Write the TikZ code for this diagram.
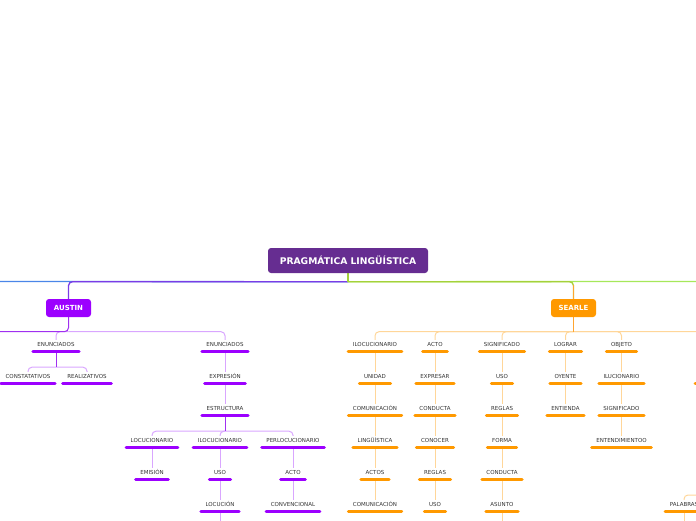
\documentclass[tikz,border=0pt]{standalone}
\usepackage{fontspec}
\newfontfamily\dv{DejaVu Sans}
\definecolor{rootc}{HTML}{662D91}
\definecolor{austc}{HTML}{9C00FF}
\definecolor{searc}{HTML}{FF9900}
\definecolor{txt}{HTML}{333333}
\definecolor{vbar}{HTML}{9C00FF}
\definecolor{obar}{HTML}{FF9900}
\definecolor{vlight}{HTML}{D9A6FF}
\definecolor{vdark}{HTML}{A030F0}
\definecolor{olight}{HTML}{FFD699}
\definecolor{odark}{HTML}{FFA530}
\definecolor{lpurp}{HTML}{7A3CE6}
\definecolor{lblue}{HTML}{4A86E8}
\definecolor{ygreen}{HTML}{A5D13A}
\definecolor{lgreen}{HTML}{A6E85A}
\pgfdeclarelayer{bg}
\pgfsetlayers{bg,main}
\begin{document}
\begin{tikzpicture}[x=1pt,y=-1pt,
  lab/.style={font=\dv\fontsize{5.5}{6}\selectfont, text=txt, anchor=base,
    inner xsep=4.5pt, inner ysep=2pt, text height=4pt, text depth=3pt},
  barV/.style={draw=vbar, line width=3pt, line cap=round},
  barO/.style={draw=obar, line width=3pt, line cap=round},
  vn/.style={lab, append after command={(\tikzlastnode.south west) edge[barV] (\tikzlastnode.south east)}},
  on/.style={lab, append after command={(\tikzlastnode.south west) edge[barO] (\tikzlastnode.south east)}},
  cv/.style={draw=vlight, line width=1pt, rounded corners=4pt},
  cvd/.style={draw=vdark, line width=1pt},
  co/.style={draw=olight, line width=1pt, rounded corners=4pt},
  cod/.style={draw=odark, line width=1pt},
  top/.style={line width=1.3pt, rounded corners=4pt},
  mainbox/.style={rounded corners=3pt, text=white, inner sep=0pt, anchor=center}
]
\useasboundingbox (0,0) rectangle (696,520);

% main topics
\node[mainbox, fill=rootc, minimum width=160pt, minimum height=25pt,
  font=\dv\bfseries\fontsize{9.2}{10}\selectfont] (root) at (348,260.5) {PRAGMÁTICA LINGÜÍSTICA};
\node[mainbox, fill=austc, minimum width=45pt, minimum height=18pt,
  font=\dv\bfseries\fontsize{7}{8}\selectfont] (austin) at (68.5,308) {AUSTIN};
\node[mainbox, fill=searc, minimum width=45pt, minimum height=18pt,
  font=\dv\bfseries\fontsize{7}{8}\selectfont] (searle) at (573.5,308) {SEARLE};

% off-picture ends
\coordinate (offL) at (-20,281.5);
\coordinate (offR) at (730,281.5);
\coordinate (offA) at (-20,331.5);
\coordinate (offS) at (730,331.5);
\coordinate (offB) at (220,530);
\coordinate (offC) at (502,530);
\coordinate (offP) at (730,495);
\coordinate (offQ) at (684,530);
\coordinate (offBar) at (695,383);
\coordinate (offBarE) at (730,383);

% AUSTIN branch
\node[vn] (en1) at (56,346) {ENUNCIADOS};
\node[vn] (en2) at (225,346) {ENUNCIADOS};
\node[vn] (cons) at (28,378) {CONSTATATIVOS};
\node[vn] (real) at (87,378) {REALIZATIVOS};
\node[vn] (expr) at (225,378) {EXPRESIÓN};
\node[vn] (estr) at (225,410) {ESTRUCTURA};
\node[vn] (loc) at (152,442) {LOCUCIONARIO};
\node[vn] (iloc) at (220,442) {ILOCUCIONARIO};
\node[vn] (perl) at (293,442) {PERLOCUCIONARIO};
\node[vn] (emis) at (152,474) {EMISIÓN};
\node[vn] (uso) at (220,474) {USO};
\node[vn] (locu) at (220,506) {LOCUCIÓN};
\node[vn] (acto) at (293,474) {ACTO};
\node[vn] (conv) at (293,506) {CONVENCIONAL};

% SEARLE branch
\node[on] (a1) at (375,346) {ILOCUCIONARIO};
\node[on] (a2) at (375,378) {UNIDAD};
\node[on] (a3) at (375,410) {COMUNICACIÓN};
\node[on] (a4) at (375,442) {LINGÜÍSTICA};
\node[on] (a5) at (375,474) {ACTOS};
\node[on] (a6) at (375,506) {COMUNICACIÓN};
\node[on] (b1) at (435,346) {ACTO};
\node[on] (b2) at (435,378) {EXPRESAR};
\node[on] (b3) at (435,410) {CONDUCTA};
\node[on] (b4) at (435,442) {CONOCER};
\node[on] (b5) at (435,474) {REGLAS};
\node[on] (b6) at (435,506) {USO};
\node[on] (c1) at (502,346) {SIGNIFICADO};
\node[on] (c2) at (502,378) {USO};
\node[on] (c3) at (502,410) {REGLAS};
\node[on] (c4) at (502,442) {FORMA};
\node[on] (c5) at (502,474) {CONDUCTA};
\node[on] (c6) at (502,506) {ASUNTO};
\node[on] (d1) at (565.5,346) {LOGRAR};
\node[on] (d2) at (565.5,378) {OYENTE};
\node[on] (d3) at (565.5,410) {ENTIENDA};
\node[on] (e1) at (621.5,346) {OBJETO};
\node[on] (e2) at (621.5,378) {ILUCIONARIO};
\node[on] (e3) at (621.5,410) {SIGNIFICADO};
\node[on] (e4) at (621.5,442) {ENTENDIMIENTOO};
\node[on] (pal) at (684,506) {PALABRAS};
\draw[barO] (offBar) -- (offBarE);

\begin{pgfonlayer}{bg}
% root connectors
\coordinate (rj) at ([yshift=-8.5pt]root.south);
\draw[top, draw=lblue] (rj) -- (offL);
\draw[top, draw=lpurp] (rj) -| (austin.north);
\draw[top, draw=lgreen] (rj) -- (offR);
\draw[top, draw=ygreen] (rj) -| (searle.north);
\draw[top, draw=odark] (searle.north) -- ++(0,-14);
\draw[line width=1.3pt, draw=ygreen] (root.south) -- (rj);

% AUSTIN connectors
\draw[cv] (austin.south) ++(0,14.5) -| (en1.north);
\draw[cv] (austin.south) ++(0,14.5) -| (en2.north);
\draw[cvd, rounded corners=4pt] (austin.south) -- ++(0,14.5) -- (offA);
\draw[cv] (en1.south) ++(0,16) -| (cons.north);
\draw[cv] (en1.south) ++(0,16) -| (real.north);
\draw[cvd] (en1.south) -- ++(0,16);
\draw[cv] (en2.south) -- (expr.north);
\draw[cv] (expr.south) -- (estr.north);
\draw[cv] (estr.south) ++(0,16) -| (loc.north);
\draw[cv] (estr.south) ++(0,16) -| (iloc.north);
\draw[cv] (estr.south) ++(0,16) -| (perl.north);
\draw[cvd] (estr.south) -- ++(0,16);
\draw[cv] (loc.south) -- (emis.north);
\draw[cv] (iloc.south) -- (uso.north);
\draw[cv] (uso.south) -- (locu.north);
\draw[cv] (locu.south) -- (offB);
\draw[cv] (perl.south) -- (acto.north);
\draw[cv] (acto.south) -- (conv.north);

% SEARLE connectors
\draw[co] (searle.south) ++(0,14.5) -- (offS);
\foreach \n in {a1,b1,c1,d1,e1}{
  \draw[co] (searle.south) ++(0,14.5) -| (\n.north);
}
\draw[cod] (searle.south) -- ++(0,14.5);
\draw[co] (a1.south) -- (a2.north);
\draw[co] (a2.south) -- (a3.north);
\draw[co] (a3.south) -- (a4.north);
\draw[co] (a4.south) -- (a5.north);
\draw[co] (a5.south) -- (a6.north);
\draw[co] (b1.south) -- (b2.north);
\draw[co] (b2.south) -- (b3.north);
\draw[co] (b3.south) -- (b4.north);
\draw[co] (b4.south) -- (b5.north);
\draw[co] (b5.south) -- (b6.north);
\draw[co] (c1.south) -- (c2.north);
\draw[co] (c2.south) -- (c3.north);
\draw[co] (c3.south) -- (c4.north);
\draw[co] (c4.south) -- (c5.north);
\draw[co] (c5.south) -- (c6.north);
\draw[co] (c6.south) -- (offC);
\draw[co] (d1.south) -- (d2.north);
\draw[co] (d2.south) -- (d3.north);
\draw[co] (e1.south) -- (e2.north);
\draw[co] (e2.south) -- (e3.north);
\draw[co] (e3.south) -- (e4.north);
\draw[co] (offP) -| (pal.north);
\draw[co] (pal.south) -- (offQ);
\end{pgfonlayer}
\end{tikzpicture}
\end{document}
